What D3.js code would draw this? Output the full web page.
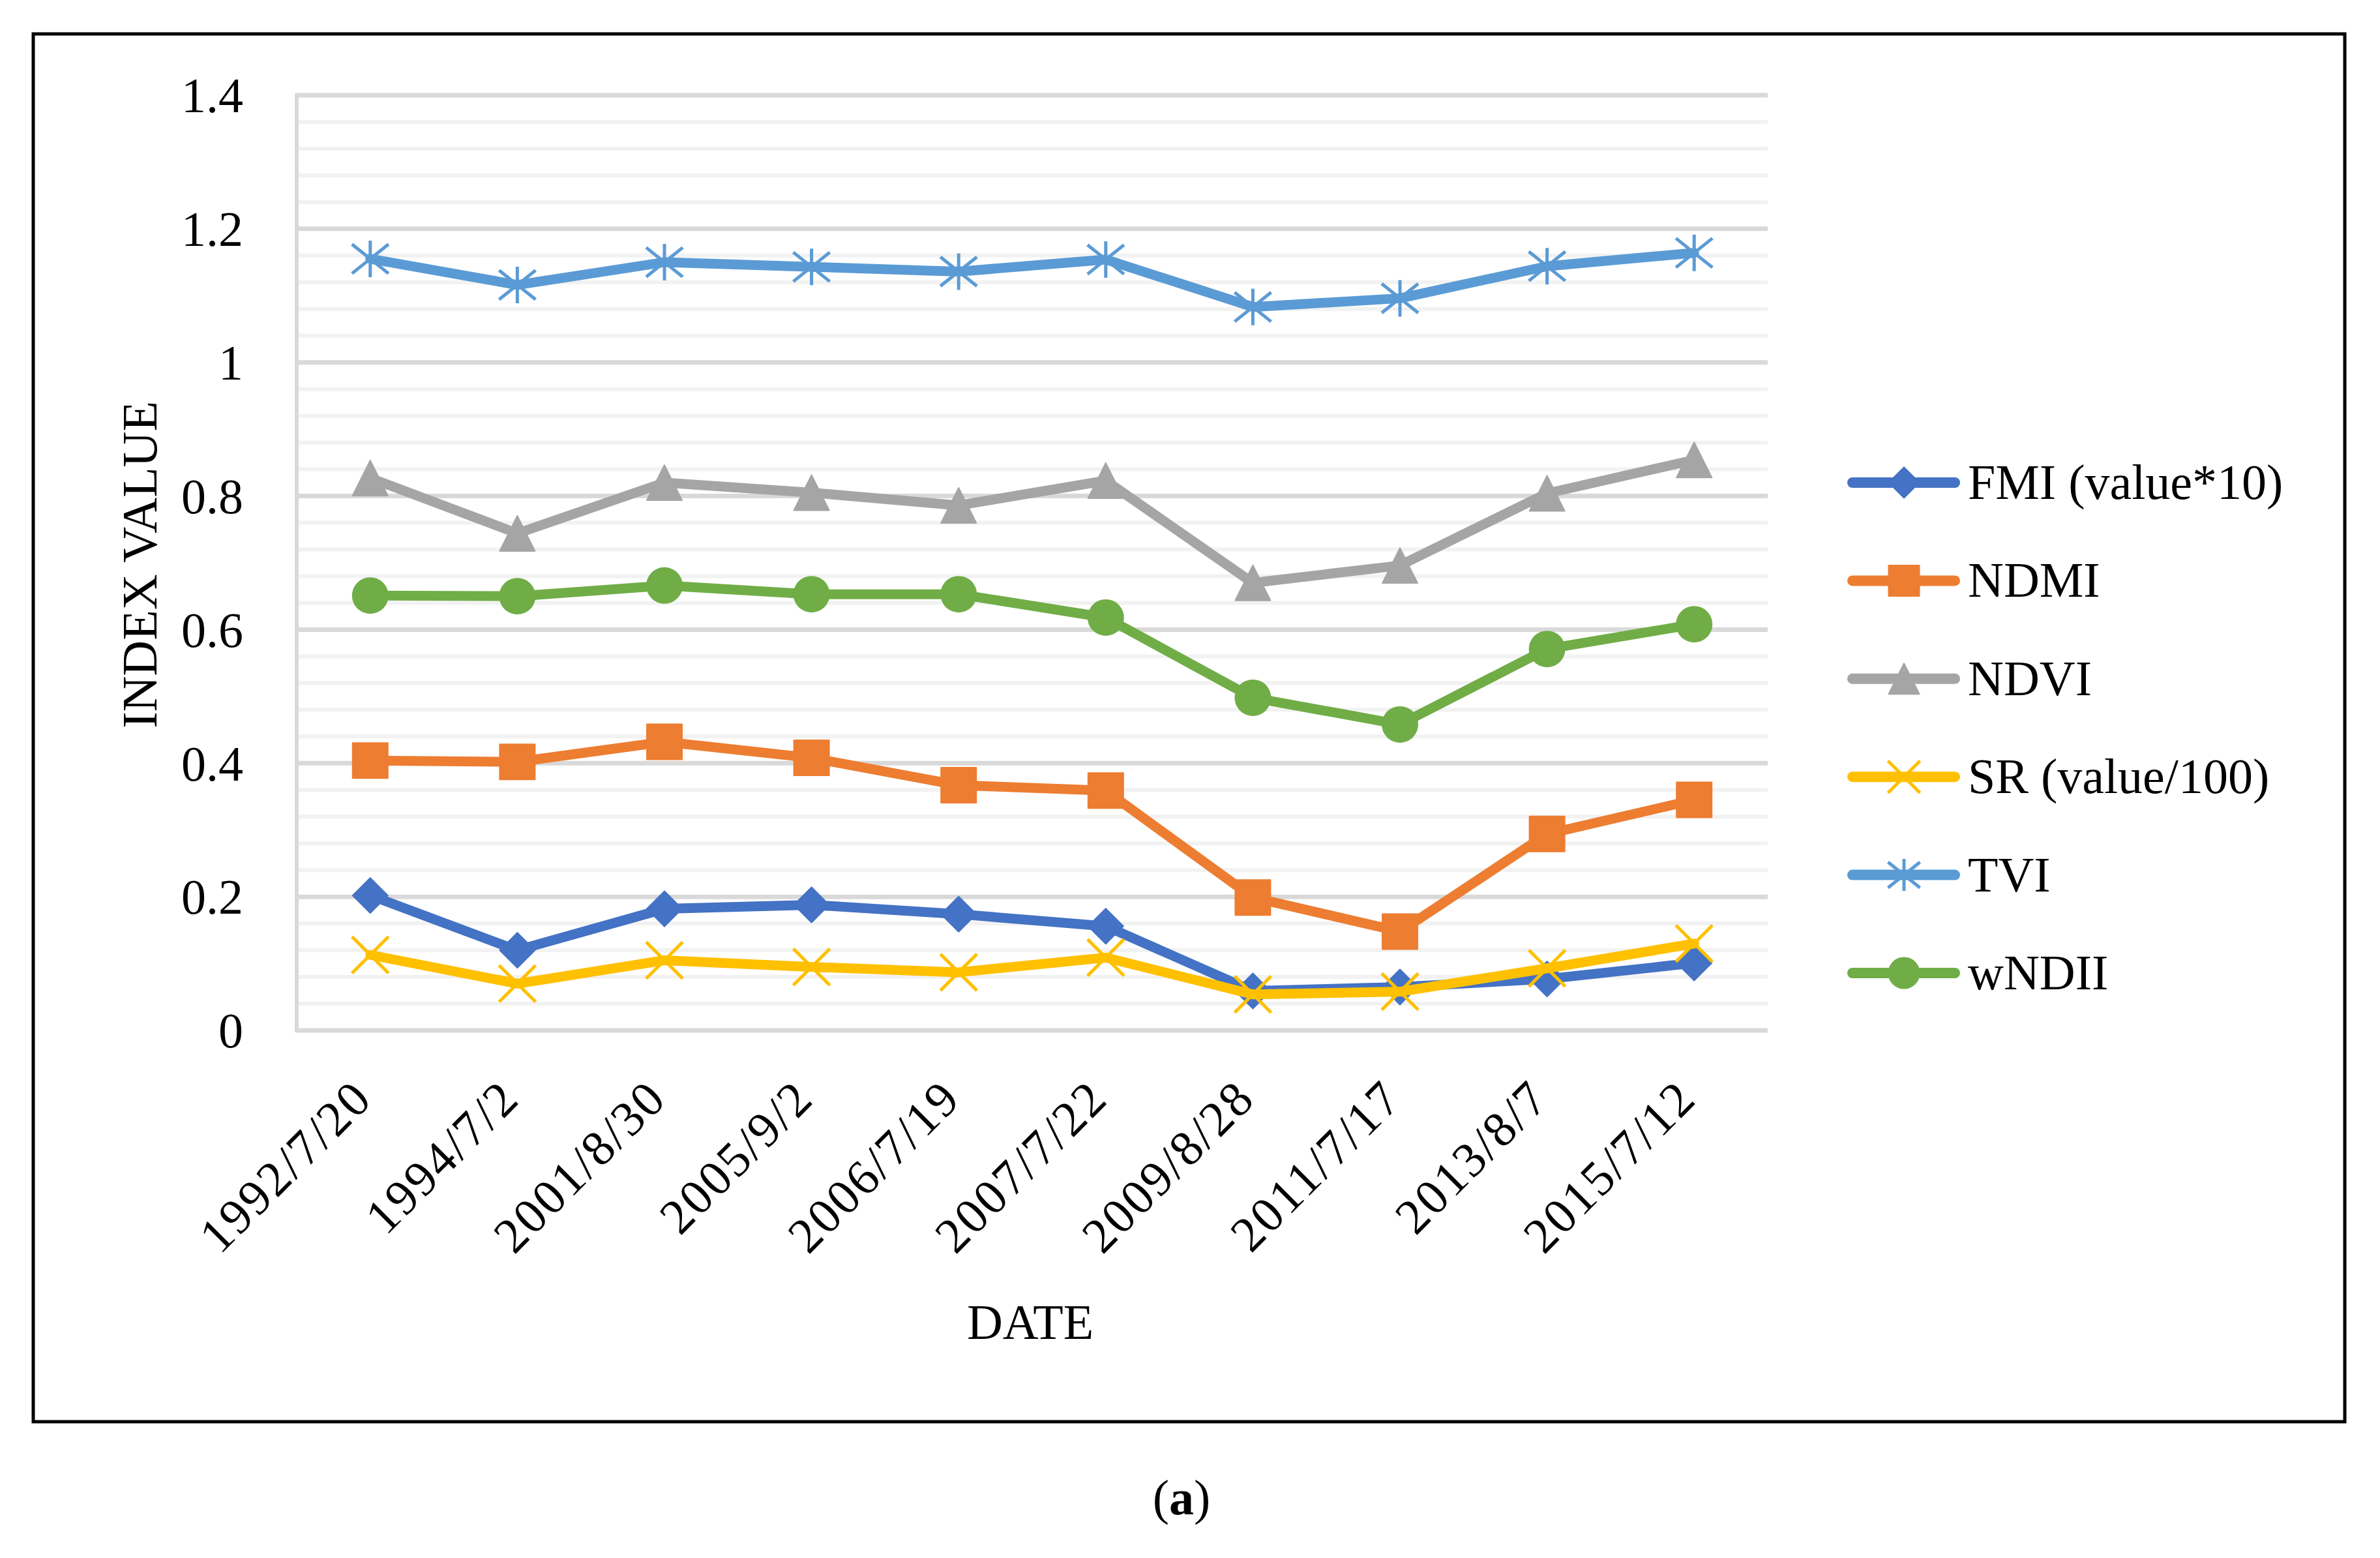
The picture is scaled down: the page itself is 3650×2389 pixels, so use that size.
<!DOCTYPE html>
<meta charset="utf-8">
<script src="https://d3js.org/d3.v7.min.js"></script>
<style>
    body { margin: 0; background: #fff; }
    text { font-family: 'Liberation Serif', 'Times New Roman', serif; fill: #000; }
</style>
<div id="chart"></div>
<script>
    // categories (x axis)
    const dates = ["1992/7/20", "1994/7/2", "2001/8/30", "2005/9/2", "2006/7/19",
        "2007/7/22", "2009/8/28", "2011/7/17", "2013/8/7", "2015/7/12"];

    // series values
    const fmi   = [0.202, 0.120, 0.182, 0.188, 0.174, 0.156, 0.059, 0.065, 0.077, 0.101];
    const ndmi  = [0.404, 0.402, 0.432, 0.408, 0.367, 0.359, 0.199, 0.148, 0.294, 0.345];
    const ndvi  = [0.827, 0.744, 0.820, 0.805, 0.786, 0.823, 0.670, 0.696, 0.804, 0.854];
    const sr    = [0.113, 0.070, 0.105, 0.095, 0.087, 0.109, 0.054, 0.058, 0.093, 0.130];
    const tvi   = [1.155, 1.116, 1.150, 1.143, 1.136, 1.154, 1.083, 1.096, 1.144, 1.164];
    const wndii = [0.651, 0.650, 0.666, 0.653, 0.653, 0.618, 0.498, 0.458, 0.571, 0.608];

    const seriesNames = ["FMI (value*10)", "NDMI", "NDVI", "SR (value/100)", "TVI", "wNDII"];
    const yTicks = [0, 0.2, 0.4, 0.6, 0.8, 1.0, 1.2, 1.4];
    const minorStep = 0.04;

    const series = [
        {name: seriesNames[0], values: fmi,   color: "#4472C4", marker: "diamond"},
        {name: seriesNames[1], values: ndmi,  color: "#ED7D31", marker: "square"},
        {name: seriesNames[2], values: ndvi,  color: "#A5A5A5", marker: "triangle"},
        {name: seriesNames[3], values: sr,    color: "#FFC000", marker: "x"},
        {name: seriesNames[4], values: tvi,   color: "#5B9BD5", marker: "star"},
        {name: seriesNames[5], values: wndii, color: "#70AD47", marker: "circle"}
    ];

    const W = 3650, H = 2389;
    const plot = {left: 455, right: 2711, top: 146, bottom: 1580};

    const svg = d3.select("#chart").append("svg")
        .attr("width", W).attr("height", H);

    // outer frame
    svg.append("rect")
        .attr("x", 51).attr("y", 52)
        .attr("width", 3596 - 51).attr("height", 2180 - 52)
        .attr("fill", "none").attr("stroke", "#000").attr("stroke-width", 5);

    const x = d3.scalePoint().domain(dates).range([plot.left, plot.right]).padding(0.5);
    const y = d3.scaleLinear().domain([0, 1.4]).range([plot.bottom, plot.top]);

    // minor gridlines
    const minor = d3.range(minorStep, 1.4, minorStep).filter(v => Math.abs(v / 0.2 - Math.round(v / 0.2)) > 0.01);
    svg.append("g").selectAll("line").data(minor).enter().append("line")
        .attr("x1", plot.left).attr("x2", plot.right)
        .attr("y1", d => y(d)).attr("y2", d => y(d))
        .attr("stroke", "#f2f2f2").attr("stroke-width", 6);

    // major gridlines
    svg.append("g").selectAll("line").data(yTicks).enter().append("line")
        .attr("x1", plot.left).attr("x2", plot.right)
        .attr("y1", d => y(d)).attr("y2", d => y(d))
        .attr("stroke", "#d9d9d9").attr("stroke-width", 7);

    // left axis line
    svg.append("line")
        .attr("x1", plot.left).attr("x2", plot.left)
        .attr("y1", plot.top - 3).attr("y2", plot.bottom + 3)
        .attr("stroke", "#d9d9d9").attr("stroke-width", 6);

    // y axis labels
    const yAxis = svg.append("g")
        .attr("transform", "translate(" + (plot.left - 82) + ",0)")
        .call(d3.axisLeft(y).tickValues(yTicks).tickFormat(d3.format(".2~f")).tickSize(0).tickPadding(0));
    yAxis.select(".domain").remove();
    yAxis.selectAll("text")
        .style("font-family", "'Liberation Serif', serif")
        .style("font-size", "76px")
        .attr("dy", "0.34em");

    // x axis labels, rotated
    const xAxis = svg.append("g")
        .attr("transform", "translate(0," + plot.bottom + ")")
        .call(d3.axisBottom(x).tickSize(0).tickPadding(0));
    xAxis.select(".domain").remove();
    xAxis.selectAll("text")
        .style("font-family", "'Liberation Serif', serif")
        .style("font-size", "76px")
        .style("letter-spacing", "3px")
        .attr("text-anchor", "end")
        .attr("dy", 0).attr("y", 0)
        .attr("transform", "translate(6,108) rotate(-45)");

    // axis titles
    svg.append("text")
        .attr("transform", "translate(240,866) rotate(-90)")
        .attr("text-anchor", "middle")
        .style("font-size", "76px")
        .text("INDEX VALUE");

    svg.append("text")
        .attr("x", 1580).attr("y", 2053)
        .attr("text-anchor", "middle")
        .style("font-size", "76px")
        .text("DATE");

    const cap = svg.append("text")
        .attr("x", 1812).attr("y", 2322)
        .attr("text-anchor", "middle")
        .style("font-size", "76px");
    cap.append("tspan").text("(");
    cap.append("tspan").attr("font-weight", "bold").text("a");
    cap.append("tspan").text(")");

    // marker shapes
    function markerPath(type, s) {
        const h = s / 2;
        if (type === "diamond") return "M0," + (-h) + "L" + h + ",0L0," + h + "L" + (-h) + ",0Z";
        if (type === "square") return "M" + (-h) + "," + (-h) + "H" + h + "V" + h + "H" + (-h) + "Z";
        if (type === "triangle") return "M0," + (-h) + "L" + h + "," + h + "L" + (-h) + "," + h + "Z";
        if (type === "x") return "M" + (-h) + "," + (-h) + "L" + h + "," + h + "M" + (-h) + "," + h + "L" + h + "," + (-h);
        if (type === "star") return "M0," + (-h) + "V" + h +
            "M" + (-h) + "," + (-h * 0.8) + "L" + h + "," + (h * 0.8) +
            "M" + (-h) + "," + (h * 0.8) + "L" + h + "," + (-h * 0.8);
        return null;
    }

    function drawMarker(g, s, cx, cy, size) {
        if (s.marker === "circle") {
            g.append("circle").attr("cx", cx).attr("cy", cy).attr("r", size / 2).attr("fill", s.color);
        } else if (s.marker === "x" || s.marker === "star") {
            g.append("path").attr("transform", "translate(" + cx + "," + cy + ")")
                .attr("d", markerPath(s.marker, size))
                .attr("fill", "none").attr("stroke", s.color).attr("stroke-width", 5);
        } else {
            g.append("path").attr("transform", "translate(" + cx + "," + cy + ")")
                .attr("d", markerPath(s.marker, size - 2))
                .attr("fill", s.color).attr("stroke", s.color)
                .attr("stroke-width", 2).attr("stroke-linejoin", "round");
        }
    }

    const line = d3.line()
        .x((d, i) => x(dates[i]))
        .y(d => y(d));

    series.forEach(function (s) {
        const g = svg.append("g");
        g.append("path")
            .attr("d", line(s.values))
            .attr("fill", "none")
            .attr("stroke", s.color)
            .attr("stroke-width", 15)
            .attr("stroke-linejoin", "round")
            .attr("stroke-linecap", "round");
        s.values.forEach(function (v, i) {
            drawMarker(g, s, x(dates[i]), y(v), 56);
        });
    });

    // legend
    const legendY = d3.scalePoint().domain(seriesNames).range([740, 1492]);
    series.forEach(function (s) {
        const ly = legendY(s.name);
        const g = svg.append("g");
        g.append("line")
            .attr("x1", 2841).attr("x2", 2998)
            .attr("y1", ly).attr("y2", ly)
            .attr("stroke", s.color).attr("stroke-width", 16)
            .attr("stroke-linecap", "round");
        drawMarker(g, s, 2920, ly, 49);
        g.append("text")
            .attr("x", 3018).attr("y", ly)
            .attr("dy", "0.33em")
            .style("font-size", "76px")
            .text(s.name);
    });
</script>
